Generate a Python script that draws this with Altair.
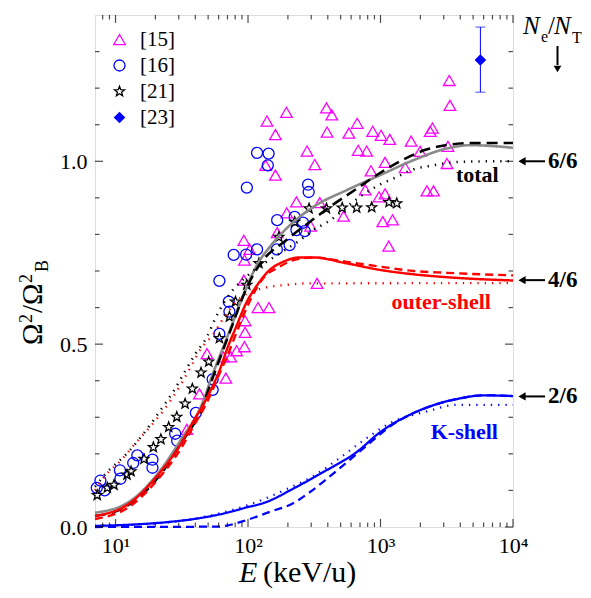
import math
import altair as alt
import pandas as pd

# ---------------- data ----------------
ref15_E = [3304, 3342, 391, 429, 195, 139, 161, 667, 577, 395, 873, 1009, 1175, 2466, 2371, 1702, 279, 319, 136, 161,
           679, 786, 1082, 1990, 3229, 3175, 1535, 847, 767, 2239, 2512, 975, 1082, 232, 348, 196, 297, 526, 1040, 1233,
           1153, 332, 166, 93, 103, 94, 93, 119, 144, 95, 95, 94, 82, 74, 65, 49, 68, 43, 34.5]
ref15_y = [1.221, 1.153, 1.146, 1.127, 1.134, 1.110, 1.073, 1.104, 1.077, 1.080, 1.082, 1.071, 1.060, 1.091, 1.082, 1.055,
           1.028, 0.991, 0.989, 0.962, 1.030, 1.028, 0.997, 1.027, 1.041, 0.994, 0.983, 0.974, 0.922, 0.919, 0.919, 0.903,
           0.911, 0.889, 0.887, 0.859, 0.823, 0.850, 0.835, 0.840, 0.768, 0.666, 0.805, 0.784, 0.759, 0.730, 0.675, 0.600,
           0.600, 0.564, 0.532, 0.493, 0.482, 0.465, 0.465, 0.474, 0.407, 0.364, 0.267]

ref16_E = [7.22, 7.69, 8.28, 10.8, 10.9, 13.6, 14.6, 19.0, 19.0, 28.2, 29.2, 40.4, 54.1, 54.1, 60.8, 60.8, 71.6, 72.4,
           78.0, 96.8, 117, 165, 206, 232, 166, 260, 268, 225, 98, 117, 143, 141, 284, 287]
ref16_y = [0.107, 0.127, 0.100, 0.155, 0.132, 0.175, 0.196, 0.184, 0.162, 0.255, 0.236, 0.312, 0.404, 0.375, 0.528, 0.673,
           0.616, 0.589, 0.744, 0.745, 0.759, 0.759, 0.771, 0.812, 0.839, 0.832, 0.809, 0.848, 0.928, 1.023, 1.021, 0.989,
           0.936, 0.916]

ref21_E = [7.28, 8.67, 9.74, 12.2, 13.1, 16.4, 19.3, 22.0, 25.2, 29.0, 33.5, 38.0, 44.2, 50.5, 60.8, 72.4, 80.4, 97.9,
           121, 171, 225, 289, 391, 514, 661, 858, 1159, 1327]
ref21_y = [0.087, 0.107, 0.115, 0.143, 0.152, 0.186, 0.218, 0.240, 0.273, 0.301, 0.337, 0.378, 0.422, 0.452, 0.516, 0.575,
           0.616, 0.662, 0.721, 0.793, 0.834, 0.871, 0.871, 0.873, 0.873, 0.874, 0.888, 0.885]

ref23_E = [5675]
ref23_y = [1.277]
ref23_lo = [1.189]
ref23_hi = [1.367]

series_names = ["[15]", "[16]", "[21]", "[23]"]

# curves
total_solid_E = [7, 12.3, 22, 31.2, 44.2, 55.7, 66.4, 72.4, 91.4, 115, 146, 184, 310, 555, 991, 1771, 3175, 4768, 10000]
total_solid_y = [0.039, 0.066, 0.157, 0.239, 0.33, 0.43, 0.50, 0.535, 0.630, 0.712, 0.766, 0.807, 0.875, 0.921, 0.962,
                 1.003, 1.035, 1.044, 1.037]
total_dash_E = [7, 12.3, 22, 31.2, 44.2, 55.7, 72.4, 98, 121, 195, 292, 414, 661, 991, 1489, 2213, 3366, 5047, 10000]
total_dash_y = [0.03, 0.058, 0.145, 0.228, 0.32, 0.42, 0.53, 0.655, 0.715, 0.785, 0.834, 0.875, 0.925, 0.968, 1.005,
                1.032, 1.046, 1.05, 1.05]
total_dot_E = [7, 8.3, 12.7, 16.4, 22.7, 27.8, 34, 40, 49, 57.4, 76.7, 96.8, 173, 246, 310, 391, 700, 962, 1327, 1771,
               2512, 3776, 7160, 10000]
total_dot_y = [0.11, 0.143, 0.208, 0.257, 0.328, 0.375, 0.43, 0.473, 0.52, 0.575, 0.648, 0.684, 0.748, 0.784, 0.812,
               0.832, 0.903, 0.934, 0.957, 0.978, 0.989, 0.998, 1.0, 1.0]
outer_solid_E = [7, 12.3, 22, 31.2, 38, 49.6, 62.7, 68.4, 81.5, 96.8, 115, 146, 184, 246, 310, 555, 991, 1771, 3175, 10000]
outer_solid_y = [0.03, 0.061, 0.152, 0.228, 0.284, 0.357, 0.44, 0.48, 0.548, 0.612, 0.657, 0.703, 0.725, 0.737, 0.737,
                 0.721, 0.703, 0.691, 0.683, 0.674]
outer_dash_E = [7, 12.3, 22, 31.2, 38, 49.6, 62.7, 68.4, 81.5, 91.4, 108.5, 122, 137, 164, 232, 310, 555, 991, 1771,
                3175, 10000]
outer_dash_y = [0.022, 0.052, 0.14, 0.215, 0.27, 0.345, 0.43, 0.46, 0.53, 0.575, 0.634, 0.666, 0.689, 0.707, 0.732,
                0.737, 0.725, 0.712, 0.70, 0.695, 0.688]
outer_dot_E = [7, 8.3, 11.1, 14.2, 16.4, 26.2, 32.1, 37.1, 44.2, 54.1, 65, 83.8, 115, 137, 195, 276, 10000]
outer_dot_y = [0.10, 0.139, 0.184, 0.23, 0.255, 0.347, 0.398, 0.439, 0.488, 0.525, 0.57, 0.62, 0.648, 0.655, 0.662,
               0.666, 0.667]
k_solid_E = [7, 12.3, 24, 39.4, 76.7, 94, 137, 225, 369, 661, 1000, 1670, 2370, 3776, 6010, 10000]
k_solid_y = [0.003, 0.006, 0.013, 0.022, 0.043, 0.052, 0.068, 0.107, 0.150, 0.205, 0.26, 0.307, 0.33, 0.35, 0.36, 0.358]
k_dash_E = [7, 58.7, 99.5, 150, 212, 292, 493, 832, 1180, 1670, 2370, 3776, 6010, 10000]
k_dash_y = [0.0, 0.001, 0.02, 0.043, 0.062, 0.095, 0.161, 0.23, 0.275, 0.307, 0.33, 0.35, 0.36, 0.358]
k_dot_E = [7, 24, 50, 100, 200, 310, 493, 786, 1180, 2240, 3776, 10000]
k_dot_y = [0.003, 0.012, 0.03, 0.06, 0.105, 0.139, 0.189, 0.243, 0.284, 0.316, 0.334, 0.334]

# axis ticks / labels
x_major = [10, 100, 1000, 10000]
x_major_labels = ["10¹", "10²", "10³", "10⁴"]
x_minor = [8, 9, 20, 30, 40, 50, 60, 70, 80, 90, 200, 300, 400, 500, 600, 700, 800, 900,
           2000, 3000, 4000, 5000, 6000, 7000, 8000, 9000]
y_major = [0.0, 0.5, 1.0]
y_minor = [0.1, 0.2, 0.3, 0.4, 0.6, 0.7, 0.8, 0.9, 1.1, 1.2, 1.3]

# annotations
shell_labels = ["total", "outer-shell", "K-shell"]
shell_E = [5380, 2870, 4295]
shell_y = [0.962, 0.615, 0.26]
ratio_labels = ["6/6", "4/6", "2/6"]
ratio_levels = [1.0, 0.675, 0.357]

# ---------------- chart ----------------
W, H = 418, 512
FONT = "Liberation Serif, Times New Roman, Times, serif"

xs = alt.Scale(type="log", domain=[7, 10000])
ys = alt.Scale(domain=[0, 1.4])
label_expr = " : ".join(f"datum.value == {v} ? '{l}'" for v, l in zip(x_major, x_major_labels)) + " : ''"
x_axis = alt.Axis(values=x_major, labelExpr=label_expr, ticks=False, domain=False, grid=False, title=None,
                  labelFont=FONT, labelFontSize=22, labelColor="black", labelPadding=8, labelFlush=False)
y_axis = alt.Axis(values=y_major, format=".1f", ticks=False, domain=False, grid=False, title=None,
                  labelFont=FONT, labelFontSize=22, labelColor="black", labelPadding=8)


def X(f="E"):
    return alt.X(f"{f}:Q", scale=xs, axis=x_axis)


def Y(f="y"):
    return alt.Y(f"{f}:Q", scale=ys, axis=y_axis)


# star symbol path
pts = []
for k in range(10):
    a = math.radians(-90 + 36 * k)
    r = 1.0 if k % 2 == 0 else 0.42
    pts.append(f"{r * math.cos(a):.3f},{r * math.sin(a):.3f}")
star_path = "M" + " L".join(pts) + " Z"

pts_df = pd.concat([
    pd.DataFrame({"E": ref15_E, "y": ref15_y, "series": series_names[0]}),
    pd.DataFrame({"E": ref16_E, "y": ref16_y, "series": series_names[1]}),
    pd.DataFrame({"E": ref21_E, "y": ref21_y, "series": series_names[2]}),
    pd.DataFrame({"E": ref23_E, "y": ref23_y, "series": series_names[3]}),
])

leg = alt.Legend(orient="none", legendX=14, legendY=14, title=None, labelFont=FONT, labelFontSize=21,
                 labelColor="black", rowPadding=4, padding=0, labelOffset=10, symbolStrokeWidth=1.3)

points = alt.Chart(pts_df).mark_point(strokeWidth=1.3, opacity=1, fillOpacity=1).encode(
    x=X(), y=Y(),
    shape=alt.Shape("series:N", scale=alt.Scale(domain=series_names,
                                                range=["triangle-up", "circle", star_path, "diamond"]), legend=leg),
    stroke=alt.Stroke("series:N", scale=alt.Scale(domain=series_names,
                                                  range=["#ff00ff", "#0000ff", "#000000", "#0000ff"]), legend=leg),
    fill=alt.Fill("series:N", scale=alt.Scale(domain=series_names,
                                              range=["transparent", "transparent", "transparent", "#0000ff"]),
                  legend=leg),
    size=alt.Size("series:N", scale=alt.Scale(domain=series_names, range=[135, 95, 110, 120]), legend=leg),
)

err_df = pd.DataFrame({"E": ref23_E, "lo": ref23_lo, "hi": ref23_hi})
err_rule = alt.Chart(err_df).mark_rule(color="#0000ff", strokeWidth=1).encode(x=X(), y=Y("lo"), y2="hi:Q")
err_cap_lo = alt.Chart(err_df).mark_tick(orient="horizontal", size=10, thickness=1, color="#0000ff").encode(
    x=X(), y=Y("lo"))
err_cap_hi = alt.Chart(err_df).mark_tick(orient="horizontal", size=10, thickness=1, color="#0000ff").encode(
    x=X(), y=Y("hi"))

curve_names = ["total_solid", "total_dash", "total_dot", "outer_solid", "outer_dash", "outer_dot",
               "k_solid", "k_dash", "k_dot"]
curve_data = [(total_solid_E, total_solid_y), (total_dash_E, total_dash_y), (total_dot_E, total_dot_y),
              (outer_solid_E, outer_solid_y), (outer_dash_E, outer_dash_y), (outer_dot_E, outer_dot_y),
              (k_solid_E, k_solid_y), (k_dash_E, k_dash_y), (k_dot_E, k_dot_y)]
curves_df = pd.concat([pd.DataFrame({"E": e, "y": v, "curve": n}) for n, (e, v) in zip(curve_names, curve_data)])
curve_colors = ["#8a8a8a", "#000000", "#000000", "#ff0000", "#ff0000", "#ff0000", "#0000ff", "#0000ff", "#0000ff"]
SOLID, DASH, DOT = [1, 0], [8, 5], [1.3, 6]
curve_dash = [SOLID, [11, 6], DOT, SOLID, DASH, DOT, SOLID, DASH, DOT]
curve_width = [2.6, 2.2, 1.3, 1.6, 1.6, 1.3, 1.6, 1.6, 1.3]

lines = alt.Chart(curves_df).mark_line(interpolate="monotone").encode(
    x=X(), y=Y(),
    color=alt.Color("curve:N", scale=alt.Scale(domain=curve_names, range=curve_colors), legend=None),
    strokeDash=alt.StrokeDash("curve:N", scale=alt.Scale(domain=curve_names, range=curve_dash), legend=None),
    strokeWidth=alt.StrokeWidth("curve:N", scale=alt.Scale(domain=curve_names, range=curve_width), legend=None),
    detail="curve:N",
)


# frame ticks (inward)
def xticks(vals, size):
    d = pd.DataFrame({"E": vals})
    b = alt.Chart(d).mark_tick(orient="vertical", size=size, thickness=1.2, color="black").encode(
        x=X(), y=alt.value(H - size / 2))
    t = alt.Chart(d).mark_tick(orient="vertical", size=size, thickness=1.2, color="black").encode(
        x=X(), y=alt.value(size / 2))
    return [b, t]


def yticks(vals, size):
    d = pd.DataFrame({"y": vals})
    l = alt.Chart(d).mark_tick(orient="horizontal", size=size, thickness=1.2, color="black").encode(
        y=Y(), x=alt.value(size / 2))
    r = alt.Chart(d).mark_tick(orient="horizontal", size=size, thickness=1.2, color="black").encode(
        y=Y(), x=alt.value(W - size / 2))
    return [l, r]


tick_layers = xticks(x_major, 8) + xticks(x_minor, 4.5) + yticks(y_major, 8) + yticks(y_minor, 4.5)

# in-plot labels
shell_colors = ["black", "#ff0000", "#0000ff"]
shell_layers = []
for lab, e, v, c in zip(shell_labels, shell_E, shell_y, shell_colors):
    shell_layers.append(
        alt.Chart(pd.DataFrame({"E": [e], "y": [v], "t": [lab]})).mark_text(
            font=FONT, fontSize=22, fontWeight="bold", color=c, align="center", baseline="middle"
        ).encode(x=X(), y=Y(), text="t:N"))

# right-hand ratio arrows
ratio_df = pd.DataFrame({"y": ratio_levels, "lab": ratio_labels})
ratio_shaft = alt.Chart(ratio_df).mark_rule(color="black", strokeWidth=2).encode(
    x=alt.value(430), x2=alt.value(450), y=Y())
ratio_head = alt.Chart(ratio_df).mark_point(shape="triangle-left", filled=True, color="black", size=70,
                                            opacity=1).encode(x=alt.value(427), y=Y())
ratio_text = alt.Chart(ratio_df).mark_text(font=FONT, fontSize=23, fontWeight="bold", color="black",
                                           align="left", baseline="middle").encode(
    x=alt.value(453), y=Y(), text="lab:N")


def txt(s, x, y, size, style="normal", weight="normal", angle=0, align="left", baseline="alphabetic"):
    return alt.Chart(pd.DataFrame({"t": [s]})).mark_text(
        font=FONT, fontSize=size, fontStyle=style, fontWeight=weight, angle=angle, align=align,
        baseline=baseline, color="black").encode(x=alt.value(x), y=alt.value(y), text="t:N")


ne_layers = [
    txt("N", 428, 19, 25, style="italic"),
    txt("e", 446, 27, 16),
    txt("/", 453, 19, 25),
    txt("N", 459, 19, 25, style="italic"),
    txt("T", 477, 28, 16),
]
down_shaft = alt.Chart(pd.DataFrame({"t": [0]})).mark_rule(color="black", strokeWidth=2).encode(
    x=alt.value(462.5), y=alt.value(31), y2=alt.value(50))
down_head = alt.Chart(pd.DataFrame({"t": [0]})).mark_point(shape="triangle-down", filled=True, color="black",
                                                           size=60, opacity=1).encode(
    x=alt.value(462.5), y=alt.value(54))

# axis titles (page x - 95, page y - 15)
title_layers = [
    txt("E", 144, 567, 30, style="italic"),
    txt("(keV/u)", 168, 567, 30),
    # y title, reading upwards: Ω ² / Ω ² B
    txt("Ω", -53, 330, 29, angle=270),
    txt("2", -63, 308, 18, angle=270),
    txt("/", -53, 298, 29, angle=270),
    txt("Ω", -53, 290, 29, angle=270),
    txt("2", -63, 268, 18, angle=270),
    txt("B", -47, 257, 18, angle=270),
]

chart = alt.layer(
    points, err_rule, err_cap_lo, err_cap_hi, lines, *tick_layers, *shell_layers,
    ratio_shaft, ratio_head, ratio_text, *ne_layers, down_shaft, down_head, *title_layers,
).resolve_scale(
    color="independent"
).properties(
    width=W, height=H, autosize=alt.AutoSizeParams(type="none"),
    padding={"left": 87, "top": 7, "right": 70, "bottom": 63},
).configure_view(
    stroke="black", strokeWidth=1.5
).configure(
    background="white"
)

chart.save("out.html", embed_options={"renderer": "svg", "actions": False})
